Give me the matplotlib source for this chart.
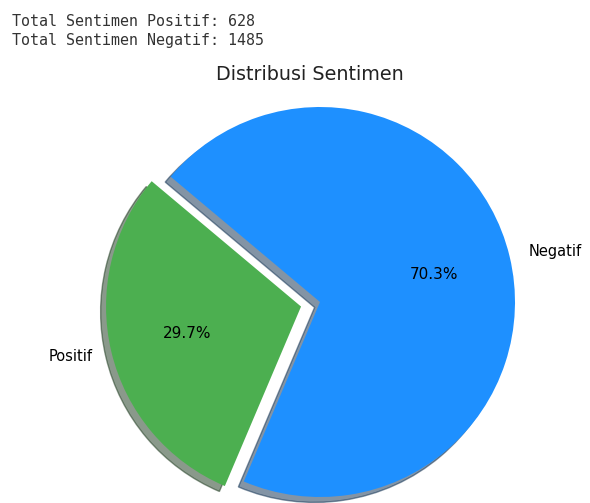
import matplotlib
matplotlib.use("Agg")
import matplotlib.pyplot as plt

labels = ["Positif", "Negatif"]
counts = [628, 1485]
colors = ["#4CAF50", "#1E90FF"]
explode = [0.1, 0]
header_lines = [f"Total Sentimen Positif: {counts[0]}",
                f"Total Sentimen Negatif: {counts[1]}"]
title = "Distribusi Sentimen"

W, H = 590, 503
fig = plt.figure(figsize=(W / 100, H / 100), dpi=100)
fig.patch.set_facecolor("white")

# pie geometry in pixels
cx, cy, r = 320, 302, 195
lim = 1.25
side = 2 * lim * r
ax = fig.add_axes([(cx - side / 2) / W, (H - cy - side / 2) / H, side / W, side / H])
wedges, texts, autotexts = ax.pie(counts, labels=labels, colors=colors, explode=explode,
                                  autopct="%1.1f%%", shadow=True, startangle=140,
                                  textprops={"fontsize": 10.5})
for t in autotexts:
    t.set_fontsize(11)
ax.set_xlim(-lim, lim)
ax.set_ylim(-lim, lim)
ax.set_aspect("equal")
ax.axis("off")

fig.text(310 / W, 1 - 74 / H, title, ha="center", va="center", fontsize=13.8,
         color="#222222")
for i, line in enumerate(header_lines):
    fig.text(12 / W, 1 - (22 + i * 19) / H, line, ha="left", va="center",
             fontsize=10.8, family="DejaVu Sans Mono", color="#333333")

fig.savefig("out.png", dpi=100, facecolor="white")
